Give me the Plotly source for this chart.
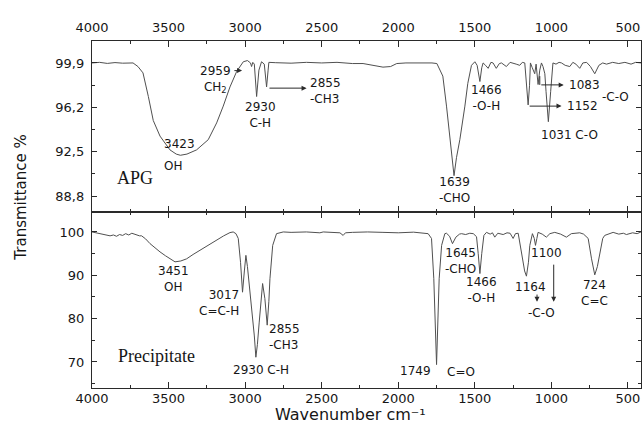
import plotly.graph_objects as go

# ---------------- data ----------------
apg_wn = [4000, 3950, 3900, 3850, 3800, 3750, 3732, 3700, 3667, 3632, 3600, 3556, 3491, 3450,
          3423, 3380, 3317, 3241, 3186, 3143, 3099, 3055, 3012, 2985, 2965, 2958, 2950, 2940,
          2925, 2910, 2893, 2875, 2860, 2850, 2845, 2800, 2700, 2600, 2500, 2400, 2300, 2230,
          2160, 2100, 2050, 2010, 1950, 1850, 1780, 1748, 1709, 1685, 1663, 1642, 1636, 1620,
          1598, 1565, 1546, 1522, 1500, 1485, 1467, 1455, 1446, 1430, 1413, 1395, 1381, 1360,
          1340, 1326, 1294, 1270, 1250, 1230, 1207, 1190, 1174, 1165, 1152, 1143, 1137, 1125,
          1109, 1100, 1087, 1076, 1065, 1055, 1043, 1035, 1020, 1005, 990, 970, 950, 934, 910,
          880, 860, 840, 815, 795, 770, 745, 717, 690, 665, 640, 600, 560, 520, 480, 450, 415]
apg_t = [99.9, 99.95, 99.86, 99.93, 99.88, 99.94, 99.9, 99.6, 99.07, 97.1, 95.1, 93.8, 92.65, 92.3,
         92.2, 92.3, 92.65, 93.5, 94.9, 96.3, 97.9, 99.2, 100.0, 100.1, 99.9, 99.6, 99.95, 99.8,
         97.1, 99.3, 100.0, 99.8, 97.9, 99.3, 99.95, 99.92, 99.88, 99.95, 99.9, 99.95, 99.85, 99.85,
         99.7, 99.55, 99.6, 99.85, 99.9, 99.92, 99.9, 99.85, 98.8, 96.3, 93.5, 90.7, 90.5, 92.0,
         93.5, 96.3, 98.2, 99.7, 100.0, 99.7, 98.35, 99.5, 99.9, 99.7, 99.45, 99.95, 99.9, 99.45,
         99.85, 99.9, 99.6, 99.95, 99.9, 99.8, 99.7, 99.95, 99.9, 98.5, 96.4, 98.0, 99.9, 99.5,
         99.0, 99.8, 98.1, 99.3, 99.9, 99.6, 99.0, 97.5, 95.0, 97.5, 99.9, 99.8, 99.95, 99.9, 99.7,
         99.6, 99.95, 99.8, 99.45, 99.9, 99.95, 99.6, 99.0, 99.7, 99.9, 99.8, 99.95, 99.85, 99.95,
         99.8, 99.95, 99.9]

pre_wn = [4000, 3970, 3940, 3910, 3882, 3860, 3840, 3820, 3800, 3780, 3760, 3740, 3732, 3710,
          3690, 3676, 3650, 3621, 3590, 3556, 3520, 3491, 3458, 3420, 3382, 3340, 3295, 3240,
          3186, 3140, 3099, 3078, 3060, 3045, 3030, 3017, 3005, 2995, 2985, 2973, 2960, 2951,
          2940, 2930, 2920, 2908, 2895, 2886, 2871, 2856, 2845, 2838, 2820, 2795, 2751, 2700,
          2600, 2512, 2490, 2400, 2381, 2360, 2345, 2300, 2200, 2100, 2000, 1900, 1805, 1783,
          1768, 1750, 1733, 1717, 1696, 1685, 1665, 1646, 1624, 1600, 1587, 1560, 1533, 1510,
          1489, 1478, 1467, 1455, 1441, 1424, 1400, 1385, 1370, 1350, 1330, 1315, 1290, 1270,
          1250, 1235, 1217, 1195, 1175, 1163, 1150, 1141, 1124, 1112, 1104, 1095, 1087, 1060,
          1033, 1010, 978, 940, 902, 870, 815, 790, 760, 738, 717, 700, 684, 665, 652, 620, 597,
          560, 530, 510, 470, 440, 415]
pre_t = [100.0, 99.8, 99.6, 99.4, 99.1, 99.3, 99.0, 99.4, 99.2, 99.6, 99.3, 99.7, 99.6, 99.5,
         99.1, 99.1, 98.4, 97.3, 96.3, 95.4, 94.5, 93.8, 93.1, 93.3, 93.8, 94.8, 95.8, 97.0,
         98.1, 99.1, 99.85, 100.0, 99.6, 98.5, 93.0, 86.1, 91.0, 94.6, 92.0, 87.7, 83.0, 80.8,
         76.0, 71.1, 74.0, 79.2, 85.0, 88.1, 84.6, 78.5, 84.0, 89.2, 96.9, 99.6, 100.0, 99.9,
         100.0, 99.8, 100.0, 99.9, 99.8, 99.2, 99.8, 99.9, 100.0, 99.9, 99.8, 99.95, 99.6, 98.5,
         89.2, 69.4, 89.2, 96.9, 99.6, 99.7, 99.0, 97.3, 98.8, 99.5, 99.6, 99.4, 99.7, 99.6,
         98.9, 95.0, 90.4, 95.0, 99.2, 99.9, 99.5, 99.8, 98.8, 99.7, 99.5, 99.4, 99.8, 99.7,
         98.5, 99.6, 99.7, 95.4, 91.0, 89.8, 93.0, 96.9, 99.6, 98.5, 96.9, 98.5, 99.9, 99.5,
         98.8, 99.6, 99.9, 99.5, 98.8, 99.6, 99.8, 99.5, 98.5, 93.8, 90.1, 92.0, 95.4, 98.5, 99.2,
         99.6, 99.9, 99.5, 99.7, 99.4, 99.8, 99.6, 100.0]

x_ticks = [4000, 3500, 3000, 2500, 2000, 1500, 1000, 500]
apg_yticks = [88.8, 92.5, 96.2, 99.9]
apg_yticklabels = ["88,8", "92,5", "96,2", "99,9"]
pre_yticks = [70, 80, 90, 100]

# ---------------- styling ----------------
SANS = "DejaVu Sans"
SERIF = "Liberation Serif"
LINE = "#505050"
AX = "#2a2a2a"
TXT = "#161616"
split = 0.5072

fig = go.Figure()
fig.add_trace(go.Scatter(x=apg_wn, y=apg_t, mode="lines", xaxis="x2", yaxis="y2",
                         line=dict(color=LINE, width=1), showlegend=False, hoverinfo="skip"))
fig.add_trace(go.Scatter(x=pre_wn, y=pre_t, mode="lines", xaxis="x", yaxis="y",
                         line=dict(color=LINE, width=1), showlegend=False, hoverinfo="skip"))

xcommon = dict(range=[4000, 415], tickmode="array", tickvals=x_ticks, ticks="inside", ticklen=6,
               tickcolor=AX, showline=True, linecolor=AX, linewidth=1.3, mirror="allticks",
               showgrid=False, zeroline=False,
               minor=dict(tickmode="linear", tick0=4000, dtick=250, ticks="inside", ticklen=3,
                          tickcolor=AX),
               tickfont=dict(family=SANS, size=13, color=TXT))

fig.update_layout(
    width=643, height=425,
    margin=dict(l=92, r=2, t=41, b=37),
    paper_bgcolor="white", plot_bgcolor="white",
    xaxis=dict(anchor="y", domain=[0, 1], side="bottom", ticklabelstandoff=-2, **xcommon),
    xaxis2=dict(anchor="y2", domain=[0, 1], side="top", matches="x", ticklabelstandoff=3,
                **xcommon),
    yaxis=dict(domain=[0, split], range=[64, 104.6], tickmode="array", tickvals=pre_yticks,
               ticks="inside", ticklen=5, tickcolor=AX, showline=True, linecolor=AX,
               linewidth=1.3, mirror="allticks", showgrid=False, zeroline=False,
               ticklabelstandoff=4,
               minor=dict(tickmode="array", tickvals=[65, 75, 85, 95], ticks="inside",
                          ticklen=3, tickcolor=AX),
               tickfont=dict(family=SANS, size=13, color=TXT)),
    yaxis2=dict(domain=[split, 1], range=[87.47, 101.73], tickmode="array",
                tickvals=apg_yticks, ticktext=apg_yticklabels,
                ticks="inside", ticklen=5, tickcolor=AX, showline=True, linecolor=AX,
                linewidth=1.3, mirror="allticks", showgrid=False, zeroline=False,
                ticklabelstandoff=4,
                minor=dict(tickmode="array", tickvals=[90.65, 94.35, 98.05], ticks="inside",
                           ticklen=3, tickcolor=AX),
                tickfont=dict(family=SANS, size=13, color=TXT)),
)

ann = []


def label(text, x, y, panel, xanchor="center", size=12, family=SANS):
    xr, yr = ("x2", "y2") if panel == "top" else ("x", "y")
    ann.append(dict(text=text, x=x, y=y, xref=xr, yref=yr, xanchor=xanchor, yanchor="middle",
                    align=xanchor, showarrow=False,
                    font=dict(family=family, size=size, color=TXT)))


def arrow(x0, y0, x1, y1, panel):
    xr, yr = ("x2", "y2") if panel == "top" else ("x", "y")
    ann.append(dict(text="", x=x1, y=y1, ax=x0, ay=y0, xref=xr, yref=yr, axref=xr, ayref=yr,
                    showarrow=True, arrowhead=2, arrowsize=1, arrowwidth=1, arrowcolor=AX,
                    standoff=0, startstandoff=0))


# top panel labels
label("2959<br>CH<sub>2</sub>", 3191, 98.55, "top")
label("2930<br>C-H", 2897, 95.53, "top")
label("2855<br>-CH3", 2587, 97.58, "top", xanchor="left")
label("3423", 3426, 93.15, "top")
label("OH", 3471, 91.32, "top")
label("APG", 3719, 90.32, "top", size=18, family=SERIF)
label("1639<br>-CHO", 1631, 89.32, "top")
label("1466<br>-O-H", 1422, 96.94, "top")
label("1083", 899, 98.07, "top", xanchor="left")
label("1152", 913, 96.32, "top", xanchor="left")
label("-C-O", 684, 97.09, "top", xanchor="left")
label("1031 C-O", 880, 93.9, "top")

arrow(3080, 99.26, 3020, 99.26, "top")
arrow(2851, 97.8, 2599, 97.8, "top")
arrow(1152, 96.3, 934, 96.3, "top")
arrow(1076, 98.07, 920, 98.07, "top")

# bottom panel labels
label("3451<br>OH", 3471, 89.15, "bot")
label("3017<br>C=C-H", 3027, 83.6, "bot", xanchor="right")
label("2855<br>-CH3", 2858, 75.87, "bot", xanchor="left")
label("2930 C-H", 2897, 68.14, "bot")
label("Precipitate", 3576, 71.37, "bot", size=18, family=SERIF)
label("1749", 1774, 67.9, "bot", xanchor="right")
label("C=O", 1696, 67.67, "bot", xanchor="left")
label("1645<br>-CHO", 1591, 93.3, "bot")
label("1466<br>-O-H", 1454, 86.6, "bot")
label("1164", 1135, 87.3, "bot")
label("1100", 1030, 95.15, "bot")
label("-C-O", 1063, 81.3, "bot")
label("724<br>C=C", 717, 86.03, "bot")

arrow(1094, 85.9, 1094, 83.9, "bot")
arrow(985, 92.8, 985, 83.9, "bot")

# axis titles
ann.append(dict(text="Wavenumber cm\u207b\u00b9", x=0.47, y=-0.1066, xref="paper", yref="paper",
                xanchor="center", yanchor="bottom", showarrow=False, borderpad=0,
                font=dict(family=SANS, size=16, color=TXT)))
ann.append(dict(text="Transmittance %", x=-0.129, y=0.549, xref="paper", yref="paper",
                xanchor="center", yanchor="middle", showarrow=False, textangle=-90,
                font=dict(family=SANS, size=15, color=TXT)))

fig.update_layout(annotations=ann,
                  shapes=[dict(type="line", xref="x2", yref="y2", x0=1076, x1=1076,
                               y0=98.8, y1=98.07, line=dict(color=AX, width=1))])

fig.write_html("out.html")
